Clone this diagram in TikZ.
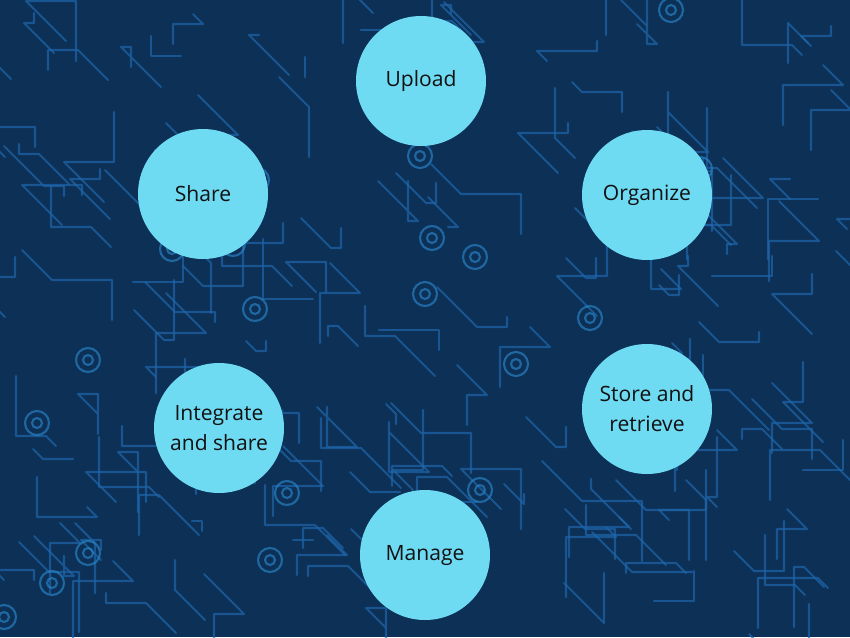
\documentclass[tikz,border=0pt]{standalone}
\usepackage{fontspec}
\setmainfont{Open Sans}
\usepackage{tikz}
\usetikzlibrary{positioning}
\definecolor{boardblue}{HTML}{0D3057}
\definecolor{traceblue}{HTML}{1E66AA}
\definecolor{padblue}{HTML}{2A86C8}
\definecolor{stepcyan}{HTML}{6FDBF3}
\definecolor{steptext}{HTML}{111111}
\tikzset{trace-line/.style={traceblue, line width=1.2pt, opacity=0.7, line cap=round, line join=round}}
\tikzset{pad-ring/.style={padblue, line width=1.2pt, opacity=0.65}}
\tikzset{stage-node/.style={circle, fill=stepcyan, minimum size=130*0.02cm, inner sep=0, align=center, text=steptext, font=\fontsize{12}{17}\selectfont}}

\begin{document}
\begin{tikzpicture}[x=0.02cm, y=-0.02cm]
            \fill[boardblue] (0,0) rectangle (850,637);
            \useasboundingbox (0,0) rectangle (850,637);

            % circuit traces in the background
            \pgfmathsetseed{11}
            \begin{scope}
            \clip (0,0) rectangle (850,637);
            \foreach \i in {1,...,170} {
                \pgfmathsetmacro\xa{random(0,850)}
                \pgfmathsetmacro\ya{random(0,637)}
                \pgfmathsetmacro\da{random(-4,4)*10}
                \pgfmathsetmacro\la{random(-6,6)*10}
                \pgfmathsetmacro\lb{random(-6,6)*10}
                \draw[trace-line] (\xa,\ya) -- ++(\da,\da) -- ++(\la,0) -- ++(0,\lb);
            }
            \foreach \i in {1,...,26} {
                \pgfmathsetmacro\xa{random(0,850)}
                \pgfmathsetmacro\ya{random(0,637)}
                \draw[pad-ring] (\xa,\ya) circle (12);
                \draw[pad-ring] (\xa,\ya) circle (5);
            }
            \end{scope}

            \node[stage-node] (upload) at (421,81) {Upload};
            \node[stage-node] (organize) at (647,195) {Organize};
            \node[stage-node] (store) at (647,409) {Store and\\retrieve};
            \node[stage-node] (manage) at (425,555) {Manage};
            \node[stage-node] (integrate) at (219,428) {Integrate\\and share};
            \node[stage-node] (share) at (203,194) {Share};
        \end{tikzpicture}
\end{document}
